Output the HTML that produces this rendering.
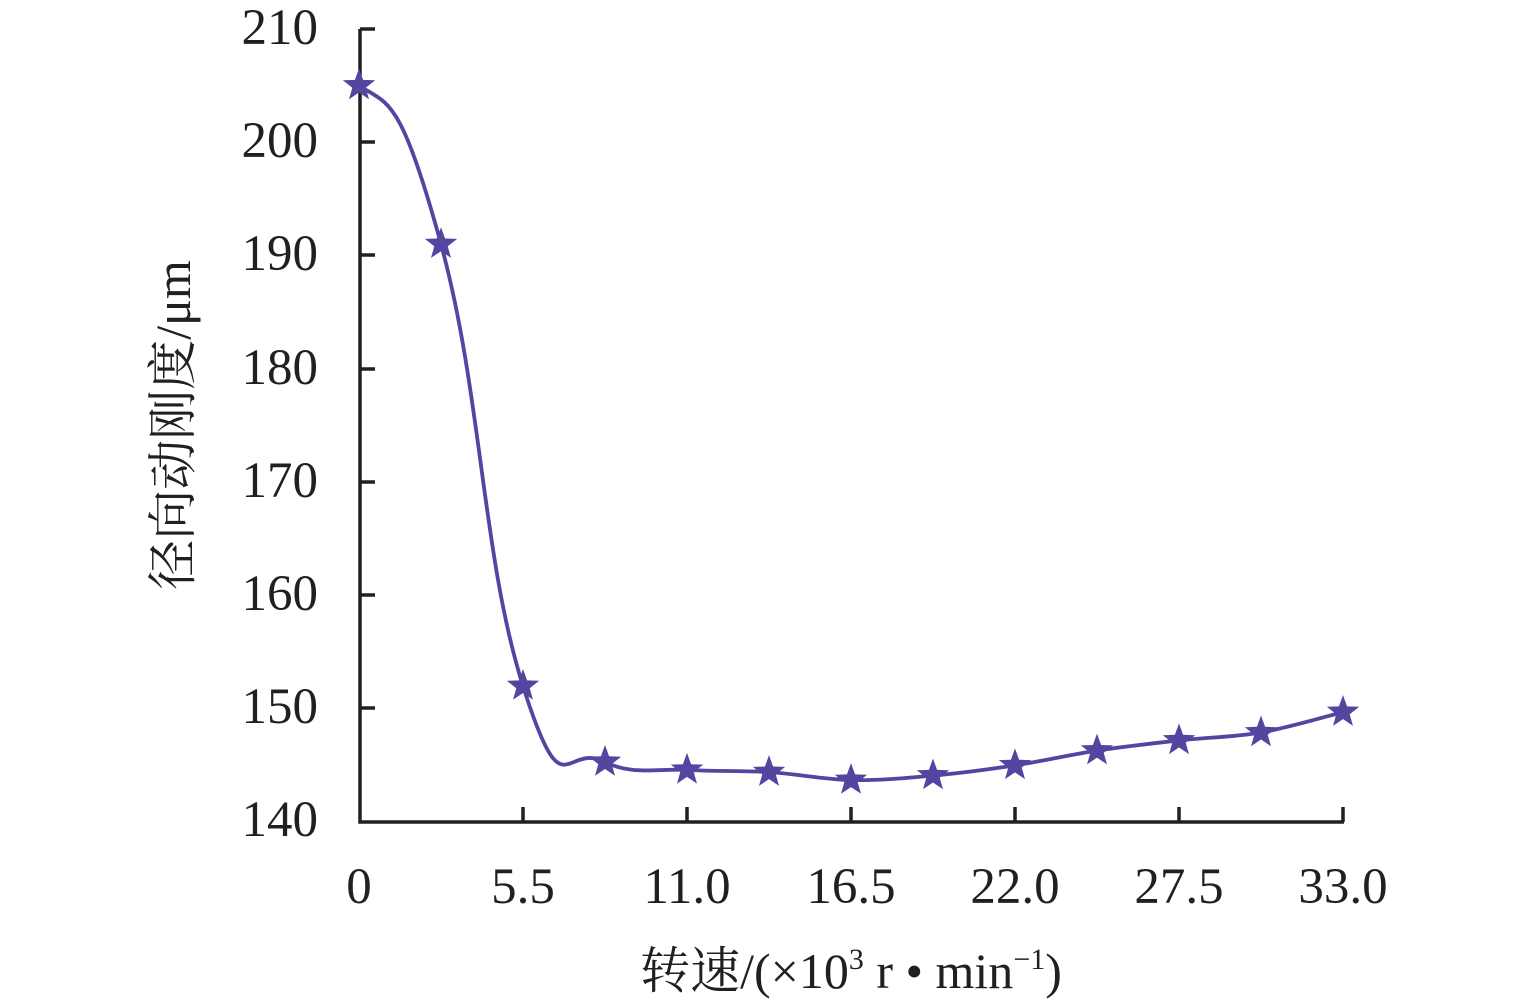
<!DOCTYPE html>
<html><head><meta charset="utf-8"><style>
html,body{margin:0;padding:0;background:#fff;}
svg{display:block;}
text{font-family:"Liberation Serif","Noto Serif CJK SC",serif;fill:#231f20;}
</style></head><body>
<svg width="1535" height="1005" viewBox="0 0 1535 1005" xmlns="http://www.w3.org/2000/svg">
<g stroke="#231f20" stroke-width="3.5" fill="none">
<path d="M360,29 V822 H1344"/>
<path d="M360,29 H375 M360,142 H375 M360,255 H375 M360,369 H375 M360,482 H375 M360,595 H375 M360,708 H375"/>
<path d="M523,822 V807 M687,822 V807 M851,822 V807 M1015,822 V807 M1179,822 V807 M1343,822 V807"/>
</g>
<g font-size="51" text-anchor="end">
<text x="318" y="44">210</text>
<text x="318" y="157">200</text>
<text x="318" y="270">190</text>
<text x="318" y="384">180</text>
<text x="318" y="497">170</text>
<text x="318" y="610">160</text>
<text x="318" y="723">150</text>
<text x="318" y="836">140</text>
</g>
<g font-size="51" text-anchor="middle">
<text x="359" y="903">0</text>
<text x="523" y="903">5.5</text>
<text x="687" y="903">11.0</text>
<text x="851" y="903">16.5</text>
<text x="1015" y="903">22.0</text>
<text x="1179" y="903">27.5</text>
<text x="1343" y="903">33.0</text>
</g>
<text x="851" y="988" font-size="50" text-anchor="middle">转速/(×10<tspan font-size="30" dy="-19">3</tspan><tspan dy="19"> r • min</tspan><tspan font-size="30" dy="-19">−1</tspan><tspan dy="19">)</tspan></text>
<text transform="translate(190,425) rotate(-90)" font-size="50" text-anchor="middle">径向动刚度/μm</text>
<path id="curve" fill="none" stroke="#5446a0" stroke-width="3.8"/>
<g id="stars" fill="#5446a0"></g>
</svg>
<script>
var xs=[359,441,523,605,687,769,851,933,1015,1097,1179,1261,1343];
var vs=[205,191,152,145.3,144.6,144.4,143.7,144.1,145,146.3,147.2,147.9,149.7];
var pts=xs.map(function(x,i){return [x,822-(vs[i]-140)*11.33];});
var d="M"+pts[0][0]+","+pts[0][1];
for(var i=0;i<pts.length-1;i++){
 var k=i<=2?0.25:1/6;
 var k1=i===3?0.25*0.667:k;
 var p0=pts[Math.max(0,i-1)],p1=pts[i],p2=pts[i+1],p3=pts[Math.min(pts.length-1,i+2)];
 var c1;
 if(i===0){c1=[p1[0]+(p2[0]-p1[0])*0.35,p1[1]+(p2[1]-p1[1])*0.12];}
 else c1=[p1[0]+(p2[0]-p0[0])*k1,p1[1]+(p2[1]-p0[1])*k1];
 var c2=[p2[0]-(p3[0]-p1[0])*k,p2[1]-(p3[1]-p1[1])*k];
 d+=" C"+c1+" "+c2+" "+p2;
}
document.getElementById("curve").setAttribute("d",d);
var g=document.getElementById("stars"),s="";
pts.forEach(function(p){
 var r=17,ri=7,a="";
 for(var j=0;j<10;j++){var rr=j%2?ri:r;var ang=-Math.PI/2+j*Math.PI/5;a+=(p[0]+rr*Math.cos(ang)).toFixed(1)+","+(p[1]+rr*Math.sin(ang)).toFixed(1)+" ";}
 s+='<polygon points="'+a+'"/>';
});
g.innerHTML=s;
</script>
</body></html>
